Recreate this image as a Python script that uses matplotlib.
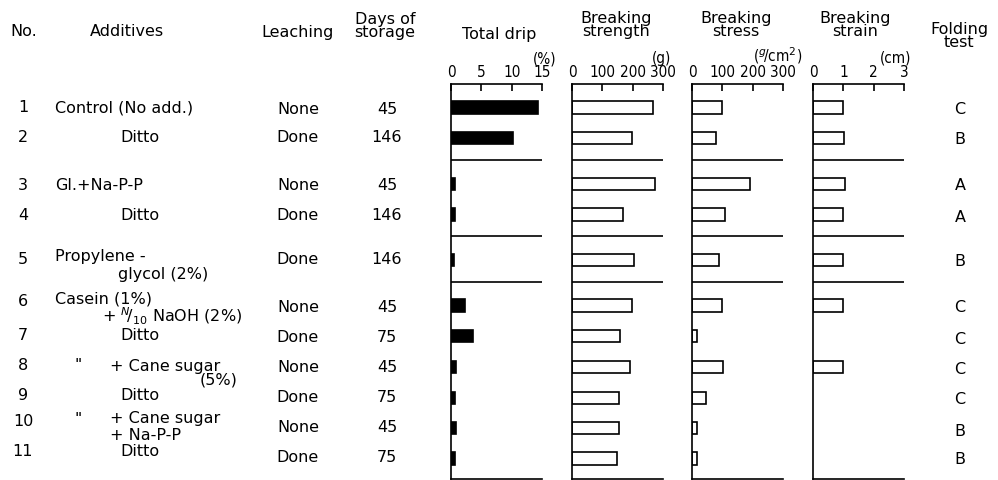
import numpy as np
import matplotlib.pyplot as plt

plt.rcParams['font.family'] = ['DejaVu Sans']
plt.rcParams['mathtext.fontset'] = 'dejavusans'

# table data
numbers = ['1', '2', '3', '4', '5', '6', '7', '8', '9', '10', '11']
additives = [
    ['Control (No add.)'],
    ['Ditto'],
    ['Gl.+Na-P-P'],
    ['Ditto'],
    ['Propylene -', 'glycol (2%)'],
    ['Casein (1%)', r'+ $^{N}\!/_{10}$ NaOH (2%)'],
    ['Ditto'],
    ['"', '+ Cane sugar', '(5%)'],
    ['Ditto'],
    ['"', '+ Cane sugar', '+ Na-P-P'],
    ['Ditto'],
]
leaching = ['None', 'Done', 'None', 'Done', 'Done', 'None', 'Done', 'None', 'Done', 'None', 'Done']
days = [45, 146, 45, 146, 146, 45, 75, 45, 75, 45, 75]
total_drip = [14.3, 10.2, 0.7, 0.6, 0.55, 2.3, 3.7, 0.75, 0.7, 0.9, 0.6]
breaking_strength = [267, 197, 274, 167, 204, 199, 157, 190, 155, 155, 148]
breaking_stress = [99, 79, 192, 110, 90, 99, 18, 101, 46, 17, 18]
breaking_strain = [1.0, 1.02, 1.07, 1.0, 1.0, 0.98, np.nan, 0.98, np.nan, np.nan, np.nan]
folding_test = ['C', 'B', 'A', 'A', 'B', 'C', 'C', 'C', 'C', 'B', 'B']

# layout (pixel positions on a 998 x 480 canvas)
W, H = 998, 480
row_y = [107.5, 138, 184, 214.5, 260, 305.5, 336, 367, 398, 428, 458.3]
num_y = [108, 137, 185, 215, 259, 301, 336, 366, 395, 422, 452]
text_y = [109, 138, 185, 215, 260, 307, 337, 367, 397, 427, 458]
fold_y = [110, 140, 185, 217, 262, 308, 339, 369, 399, 431, 460]
add_pos = [
    [(55, 108)],
    [(120, 137)],
    [(55, 185)],
    [(120, 215)],
    [(55, 257), (118, 275)],
    [(55, 299), (102, 316)],
    [(120, 336)],
    [(75, 366), (110, 366), (200, 380)],
    [(120, 395)],
    [(75, 420), (110, 419), (110, 435)],
    [(120, 452)],
]
separators = [1, 3, 4]  # lines drawn below these rows
top, bottom = 84, 479
fs = 11.5
tfs = 11
lw = 1.2

fig = plt.figure(figsize=(W / 100, H / 100), dpi=100)

# text layer
tab = fig.add_axes([0, 0, 1, 1])
tab.set_xlim(0, W)
tab.set_ylim(H, 0)
tab.axis('off')

tab.text(10, 32, 'No.', fontsize=fs, va='center')
tab.text(127, 32, 'Additives', fontsize=fs, ha='center', va='center')
tab.text(298, 32, 'Leaching', fontsize=fs, ha='center', va='center')
tab.text(385, 26, 'Days of\nstorage', fontsize=fs, ha='center', va='center', linespacing=0.9)
tab.text(499, 34, 'Total drip', fontsize=fs, ha='center', va='center')
tab.text(616, 25, 'Breaking\nstrength', fontsize=fs, ha='center', va='center', linespacing=0.9)
tab.text(736, 25, 'Breaking\nstress', fontsize=fs, ha='center', va='center', linespacing=0.9)
tab.text(855, 25, 'Breaking\nstrain', fontsize=fs, ha='center', va='center', linespacing=0.9)
tab.text(959, 36, 'Folding\ntest', fontsize=fs, ha='center', va='center', linespacing=0.85)
tab.text(545, 59, '(%)', fontsize=tfs, ha='center', va='center', fontstretch='condensed')
tab.text(662, 59, '(g)', fontsize=tfs, ha='center', va='center', fontstretch='condensed')
tab.text(778, 56, r'($^{g}\!$/cm$^{2}$)', fontsize=tfs, ha='center', va='center', fontstretch='condensed')
tab.text(896, 58, '(cm)', fontsize=tfs, ha='center', va='center', fontstretch='condensed')

for i in range(len(numbers)):
    tab.text(23, num_y[i], numbers[i], fontsize=fs, ha='center', va='center')
    for s, (x, y) in zip(additives[i], add_pos[i]):
        tab.text(x, y, s, fontsize=fs, va='center')
    tab.text(298, text_y[i], leaching[i], fontsize=fs, ha='center', va='center')
    tab.text(387, text_y[i], str(days[i]), fontsize=fs, ha='center', va='center')
    tab.text(960, fold_y[i], folding_test[i], fontsize=fs, ha='center', va='center')

sep_y = [(row_y[i] + row_y[i + 1]) / 2 - 1 for i in separators]

# bar panels: values, left px, right px, max, ticks, fill colour
panels = [
    (total_drip, 451, 542, 15, [0, 5, 10, 15], 'black'),
    (breaking_strength, 572, 663, 300, [0, 100, 200, 300], 'white'),
    (breaking_stress, 692, 783, 300, [0, 100, 200, 300], 'white'),
    (breaking_strain, 813, 904, 3, [0, 1, 2, 3], 'white'),
]

for vals, x0, x1, xmax, ticks, fc in panels:
    ax = fig.add_axes([x0 / W, 1 - bottom / H, (x1 - x0) / W, (bottom - top) / H])
    ax.set_facecolor('none')
    ax.set_xlim(0, xmax)
    ax.set_ylim(bottom, top)
    ax.barh(row_y, vals, height=12.5, color=fc, edgecolor='black', linewidth=lw)
    ax.hlines(sep_y, 0, xmax, color='black', linewidth=lw)
    ax.xaxis.tick_top()
    ax.set_xticks(ticks)
    ax.set_xticklabels([str(t) for t in ticks], fontsize=tfs, fontstretch='condensed')
    ax.tick_params(axis='x', direction='in', length=5, width=lw, pad=3)
    ax.set_yticks([])
    ax.spines['right'].set_visible(False)
    for s in ['left', 'top', 'bottom']:
        ax.spines[s].set_linewidth(lw)

fig.savefig('out.png', dpi=100)
